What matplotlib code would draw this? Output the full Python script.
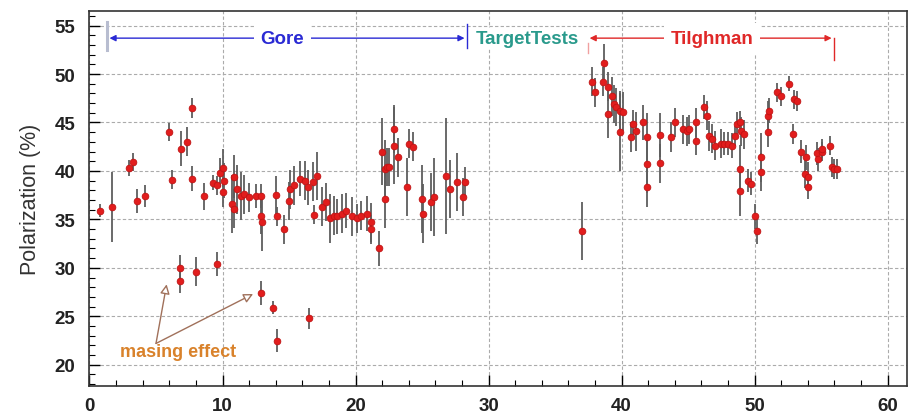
import matplotlib
matplotlib.use("Agg")
import matplotlib.pyplot as plt
from matplotlib.ticker import MultipleLocator

plt.rcParams['font.family'] = ['Liberation Sans', 'DejaVu Sans']

# Run number vs. target polarization, with statistical error
run = [
    0.8, 1.7, 3.0, 3.3, 3.6, 4.2, 6.0, 6.2, 6.9, 7.3, 7.7, 7.7, 8.6,
    6.8, 6.8, 8.0, 9.6, 12.9, 13.8, 14.1, 16.5,
    9.3, 9.6, 9.8, 10.0, 10.0, 10.1,
    10.75, 10.9, 10.9, 11.1, 11.4, 11.65, 12.0, 12.55, 12.9, 12.9, 13.0,
    14.05, 14.1, 14.65, 15.0, 15.1, 15.4, 15.8, 16.2, 16.4, 16.8, 17.1,
    16.9, 17.5, 17.8, 18.05, 18.4, 18.6, 19.0, 19.3, 19.7, 20.1,
    20.45, 20.9, 21.2, 21.2, 21.8, 22.0, 22.2, 22.2, 22.4, 22.55, 22.9,
    22.9, 23.2, 23.9, 24.05, 24.3, 25.0, 25.1, 25.7, 25.9, 26.8, 27.1,
    27.6, 28.05, 28.2,
    37.0,
    37.8, 38.0, 38.6, 38.7, 38.95, 38.95, 39.25, 39.4, 39.6, 39.85, 40.1,
    39.85, 40.75, 40.9, 41.1, 41.6, 41.95, 41.95, 41.9, 42.9, 42.9, 43.75,
    44.0, 44.6, 44.9, 45.1, 45.6, 45.6, 46.2, 46.4, 46.6, 46.8, 47.0,
    47.5, 47.7, 48.0, 48.3, 48.5, 48.7, 48.9, 49.0, 49.2, 48.9, 48.9,
    49.5, 49.7, 50.0, 50.15, 50.5, 50.5, 51.0, 51.0, 51.1, 51.7, 52.0,
    52.6, 53.0, 53.2, 52.9, 53.5, 53.9, 53.8, 54.0, 54.0, 54.7, 54.75,
    55.05, 55.1, 55.7, 55.8, 56.0, 56.2,
]
pol = [
    35.9, 36.3, 40.3, 40.9, 36.9, 37.4, 44.0, 39.1, 42.3, 43.0, 46.5, 39.2, 37.4,
    28.6, 30.0, 29.6, 30.4, 27.4, 25.9, 22.5, 24.8,
    38.8, 38.5, 39.8, 40.3, 37.8, 39.0,
    36.6, 39.4, 36.1, 38.1, 37.4, 37.6, 37.3, 37.4, 37.4, 35.3, 34.7,
    37.5, 35.3, 34.0, 36.9, 38.1, 38.5, 39.2, 39.0, 38.3, 38.9, 39.5,
    35.5, 36.3, 36.8, 35.1, 35.4, 35.3, 35.6, 35.9, 35.3, 35.1,
    35.4, 35.6, 34.7, 34.0, 32.0, 42.0, 37.1, 40.2, 40.4, 40.4, 44.3,
    42.6, 41.4, 38.3, 42.8, 42.5, 37.1, 35.6, 36.8, 37.3, 39.5, 38.1,
    38.9, 37.3, 38.9,
    33.8,
    49.2, 48.1, 49.2, 51.1, 48.7, 45.9, 47.7, 46.9, 46.6, 46.2, 46.1,
    44.0, 43.5, 44.8, 44.1, 45.0, 43.5, 40.7, 38.3, 43.7, 40.8, 43.5,
    45.0, 44.3, 44.1, 44.3, 45.0, 43.1, 46.6, 45.7, 43.6, 43.3, 42.6,
    42.8, 42.8, 42.8, 42.6, 43.6, 44.8, 45.0, 44.1, 43.8, 40.2, 37.9,
    39.0, 38.7, 35.3, 33.8, 41.4, 39.9, 44.0, 45.7, 46.2, 48.1, 47.7,
    49.0, 47.4, 47.2, 43.8, 42.0, 41.4, 39.7, 39.4, 38.3, 41.8, 41.2,
    42.0, 42.3, 42.6, 40.4, 40.2, 40.2,
]
pol_err = [
    0.7, 3.6, 0.8, 0.9, 1.2, 1.1, 0.9, 1.0, 1.8, 1.5, 1.0, 1.3, 1.4,
    1.2, 1.3, 1.5, 1.2, 1.2, 0.7, 1.2, 1.1,
    0.8, 1.0, 1.5, 2.0, 1.5, 1.8,
    3.0, 2.2, 2.0, 2.5, 2.5, 2.0, 1.5, 1.2, 1.2, 1.8, 3.0,
    2.0, 1.0, 1.5, 2.0, 2.0, 2.0, 1.8, 2.0, 1.8, 2.0, 2.5,
    1.0, 2.0, 2.0, 2.5, 2.0, 1.8, 2.0, 1.8, 2.0, 1.5,
    1.5, 1.8, 2.0, 1.5, 1.8, 3.5, 3.0, 3.0, 2.0, 2.0, 2.5,
    4.0, 2.0, 3.0, 1.5, 1.5, 3.5, 3.0, 3.0, 4.0, 6.0, 3.0,
    3.0, 2.0, 1.5,
    3.0,
    1.5, 1.5, 1.5, 2.0, 1.5, 2.5, 2.0, 2.0, 2.0, 2.0, 2.0,
    4.0, 1.5, 1.5, 2.0, 1.8, 2.5, 3.0, 2.0, 2.3, 2.0, 1.5,
    1.5, 1.5, 1.5, 1.5, 1.5, 1.5, 1.2, 1.5, 1.5, 1.5, 1.5,
    1.5, 1.2, 1.2, 1.3, 1.0, 1.3, 1.2, 1.5, 1.5, 2.5, 2.5,
    1.2, 1.2, 1.3, 1.3, 2.5, 2.0, 1.5, 1.5, 1.3, 1.0, 1.0,
    0.8, 1.0, 1.0, 1.0, 1.2, 1.3, 1.5, 1.5, 1.2, 1.2, 1.2,
    1.0, 1.0, 1.0, 1.0, 1.0, 1.0,
]

fig = plt.figure(figsize=(9.17, 4.14), dpi=100)
ax = fig.add_axes([0.0976, 0.065, 0.892, 0.906])

ax.errorbar(run, pol, yerr=pol_err, fmt='o', color='#e21d1d',
            markersize=4.8, markeredgecolor='#c01414', markeredgewidth=0.6,
            ecolor='#5e5e5e', elinewidth=1.3, capsize=0, zorder=3)

ax.set_xlim(0, 61.5)
ax.set_ylim(17.8, 56.5)
ax.xaxis.set_major_locator(MultipleLocator(10))
ax.xaxis.set_minor_locator(MultipleLocator(2))
ax.yaxis.set_major_locator(MultipleLocator(5))
ax.yaxis.set_minor_locator(MultipleLocator(1))
ax.tick_params(which='both', direction='in', top=False, right=False)
ax.tick_params(which='major', length=8, width=1.0, labelsize=13.5)
ax.tick_params(axis='y', which='major', pad=10)
ax.tick_params(axis='x', which='major', pad=8)
ax.tick_params(which='minor', length=4, width=0.8)
for lbl in ax.get_xticklabels() + ax.get_yticklabels():
    lbl.set_fontweight('bold')
    lbl.set_color('#222222')
ax.grid(True, which='major', color='#ababab', linestyle=(0, (3, 2)),
        linewidth=0.8, zorder=0)
for sp in ax.spines.values():
    sp.set_linewidth(1.2)
    sp.set_color('#333333')

ax.set_ylabel('Polarization (%)', fontsize=15.5, color='#333333', labelpad=10)

# Period markers along the top
y_arr = 53.7
ax.annotate('', xy=(1.5, y_arr), xytext=(28.2, y_arr),
            arrowprops=dict(arrowstyle='<|-|>', color='#2a2ad4', lw=1.0,
                            mutation_scale=9, shrinkA=0, shrinkB=0))
ax.plot([1.3, 1.3], [52.5, 55.4], color='#b8bdd0', lw=2.2)
ax.plot([28.4, 28.4], [52.7, 55.2], color='#2a2ad4', lw=1.0)
ax.text(14.5, y_arr, 'Gore', color='#2a2ad4', fontsize=13.5,
        fontweight='bold', ha='center', va='center',
        bbox=dict(facecolor='white', edgecolor='none', pad=5))
ax.text(32.9, y_arr, 'TargetTests', color='#2a9a8c', fontsize=13.5,
        fontweight='bold', ha='center', va='center',
        bbox=dict(facecolor='white', edgecolor='none', pad=1))
ax.annotate('', xy=(37.6, y_arr), xytext=(55.8, y_arr),
            arrowprops=dict(arrowstyle='<|-|>', color='#e02828', lw=1.0,
                            mutation_scale=9, shrinkA=0, shrinkB=0))
ax.plot([37.5, 37.5], [52.2, 53.2], color='#f0a0a0', lw=1.0)
ax.plot([56.0, 56.0], [51.4, 53.7], color='#e02828', lw=1.0)
ax.text(46.8, y_arr, 'Tilghman', color='#e02828', fontsize=13.5,
        fontweight='bold', ha='center', va='center',
        bbox=dict(facecolor='white', edgecolor='none', pad=5))

# Masing effect callout
ax.text(2.3, 21.4, 'masing effect', color='#d9822b', fontsize=13,
        fontweight='bold', ha='left', va='center')
for tip in [(5.8, 28.3), (12.3, 27.3)]:
    ax.annotate('', xy=tip, xytext=(5.0, 22.2),
                arrowprops=dict(arrowstyle='-|>', color='#a0705a', lw=1.0,
                                fc='white', mutation_scale=14,
                                shrinkA=0, shrinkB=0))

fig.savefig('out.png', dpi=100)
